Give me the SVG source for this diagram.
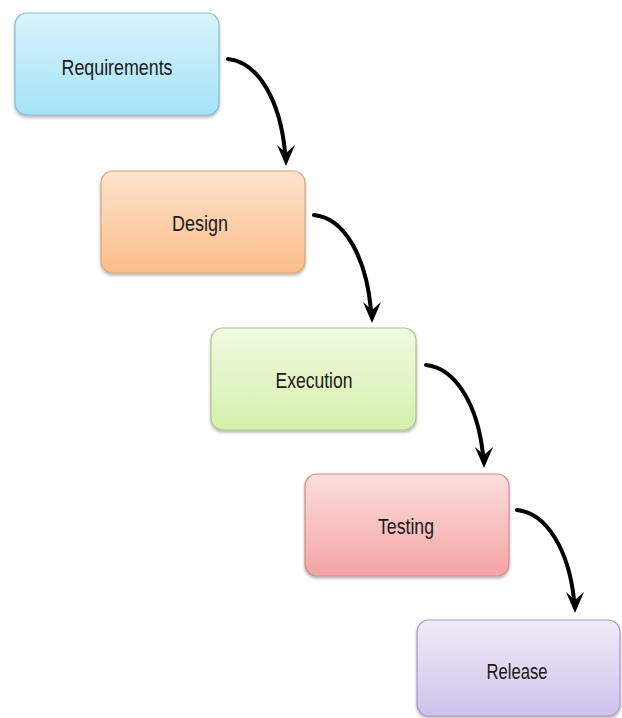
<svg xmlns="http://www.w3.org/2000/svg" width="622" height="718" viewBox="0 0 622 718">
  <defs>
    <style>
      .box { stroke-width: 1.2; }
      .label { font-family: "Liberation Sans", Arial, sans-serif; font-size: 22px; fill: #1a1a1a; text-anchor: middle; }
      .flow { fill: none; stroke: #000; stroke-width: 4; stroke-linecap: round; }
      .head { fill: #000; }
    </style>
    <linearGradient id="gBlue" x1="0" y1="0" x2="0" y2="1">
      <stop offset="0" stop-color="#d9f4fc"/>
      <stop offset="1" stop-color="#a4e3f7"/>
    </linearGradient>
    <linearGradient id="gOrange" x1="0" y1="0" x2="0" y2="1">
      <stop offset="0" stop-color="#fde3cd"/>
      <stop offset="1" stop-color="#fbbd89"/>
    </linearGradient>
    <linearGradient id="gGreen" x1="0" y1="0" x2="0" y2="1">
      <stop offset="0" stop-color="#f1fae3"/>
      <stop offset="1" stop-color="#d5f0aa"/>
    </linearGradient>
    <linearGradient id="gRed" x1="0" y1="0" x2="0" y2="1">
      <stop offset="0" stop-color="#fcdede"/>
      <stop offset="1" stop-color="#f4a4a4"/>
    </linearGradient>
    <linearGradient id="gPurple" x1="0" y1="0" x2="0" y2="1">
      <stop offset="0" stop-color="#f0ebf8"/>
      <stop offset="1" stop-color="#cfc2eb"/>
    </linearGradient>
    <filter id="shadow" x="-10%" y="-10%" width="120%" height="130%">
      <feDropShadow dx="0" dy="2" stdDeviation="1.5" flood-color="#000" flood-opacity="0.3"/>
    </filter>
  </defs>

  <rect width="622" height="718" fill="#ffffff"/>

  <g id="connectors">
    <path class="flow" d="M228,59 C258,62 280,100 285,152"/>
    <path class="flow" d="M314,215 C344,218 366,256 371,310"/>
    <path class="flow" d="M426,365 C456,368 478,406 483,455"/>
    <path class="flow" d="M517,510 C547,513 569,551 574,600"/>
    <path class="head" d="M277,145 L286,166 L295,145 L286,153 Z"/>
    <path class="head" d="M363,302 L372,323 L381,302 L372,310 Z"/>
    <path class="head" d="M475,447 L484,468 L493,447 L484,455 Z"/>
    <path class="head" d="M566,592 L575,613 L584,592 L575,600 Z"/>
  </g>

  <g id="requirements">
    <rect class="box" x="15" y="13" width="204" height="102" rx="12" fill="url(#gBlue)" stroke="#86bccc" filter="url(#shadow)"/>
    <text class="label" x="117" y="75" textLength="111" lengthAdjust="spacingAndGlyphs">Requirements</text>
  </g>

  <g id="design">
    <rect class="box" x="101" y="171" width="204" height="102" rx="12" fill="url(#gOrange)" stroke="#d9a57c" filter="url(#shadow)"/>
    <text class="label" x="200" y="231" textLength="56" lengthAdjust="spacingAndGlyphs">Design</text>
  </g>

  <g id="execution">
    <rect class="box" x="211" y="328" width="205" height="102" rx="12" fill="url(#gGreen)" stroke="#a9c58a" filter="url(#shadow)"/>
    <text class="label" x="314" y="388" textLength="77" lengthAdjust="spacingAndGlyphs">Execution</text>
  </g>

  <g id="testing">
    <rect class="box" x="305" y="474" width="204" height="102" rx="12" fill="url(#gRed)" stroke="#d08c8c" filter="url(#shadow)"/>
    <text class="label" x="406" y="534" textLength="56" lengthAdjust="spacingAndGlyphs">Testing</text>
  </g>

  <g id="release">
    <rect class="box" x="417" y="620" width="203" height="96" rx="12" fill="url(#gPurple)" stroke="#a99ac4" filter="url(#shadow)"/>
    <text class="label" x="517" y="679" textLength="61" lengthAdjust="spacingAndGlyphs">Release</text>
  </g>
</svg>
